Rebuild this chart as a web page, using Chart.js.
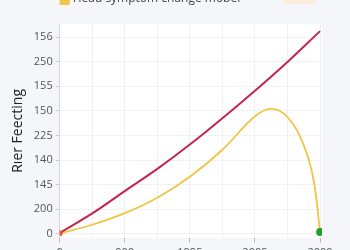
<!DOCTYPE html>
<html>
<head>
<meta charset="utf-8">
<script src="https://cdn.jsdelivr.net/npm/chart.js@4.4.1/dist/chart.umd.min.js"></script>
<style>
  html, body { margin: 0; padding: 0; background: #f4f6f9; overflow: hidden; }
  #wrap { position: absolute; left: 0; top: 0; width: 350px; height: 262px; }
</style>
</head>
<body>
<div id="wrap"><canvas id="c" width="350" height="262"></canvas></div>
<script>
// ---- data ----
const xTickLabels = ['0', '900', '1995', '2005', '2000'];
const yTickLabels = ['0', '200', '145', '140', '225', '150', '155', '250', '156'];
const seriesLabels = ['Risk model', 'Head symptom change mobel'];
const redX = [0, 0.5, 1, 1.5, 2, 2.5, 3, 3.5, 4];
const redY = [0.03, 0.83, 1.74, 2.64, 3.63, 4.7, 5.82, 6.99, 8.24];
const yellowX = [0, 0.5, 1, 1.5, 2, 2.5, 3.0, 3.25, 3.5, 3.75, 3.9, 4];
const yellowY = [0.02, 0.37, 0.84, 1.47, 2.32, 3.42, 4.78, 5.08, 4.75, 3.6, 2.2, 0.08];
const yAxisTitle = 'Rıer Feecting';

const FONT = '"Open Sans", "DejaVu Sans", sans-serif';

const redData = redX.map((x, i) => ({ x: x, y: redY[i] }));
const yellowData = yellowX.map((x, i) => ({ x: x, y: yellowY[i] }));

const bgPlugin = {
  id: 'plotBg',
  beforeDraw(chart) {
    const { ctx, chartArea: a } = chart;
    ctx.save();
    ctx.fillStyle = '#ffffff';
    ctx.fillRect(a.left, a.top, a.right - a.left, a.bottom - a.top);
    ctx.restore();
  }
};

const legendPlugin = {
  id: 'cutLegend',
  afterDraw(chart) {
    const { ctx, chartArea: a } = chart;
    const ds = chart.data.datasets[1];
    ctx.save();
    ctx.fillStyle = ds.borderColor;
    ctx.fillRect(a.left, -4, 10, 9);
    ctx.fillStyle = '#444';
    ctx.font = '12px ' + FONT;
    ctx.textBaseline = 'alphabetic';
    ctx.fillText(ds.label, a.left + 13, 2);
    ctx.fillStyle = '#fbeedd';
    ctx.beginPath();
    ctx.roundRect(283, -6, 34, 10, 3);
    ctx.fill();
    ctx.restore();
  }
};

new Chart(document.getElementById('c'), {
  type: 'line',
  data: {
    datasets: [
      {
        label: seriesLabels[0],
        data: redData,
        borderColor: '#c4254f',
        borderWidth: 2,
        tension: 0.4,
        pointRadius: ctx => ctx.dataIndex === 0 ? 3 : 0,
        pointBackgroundColor: '#e9553a',
        pointBorderWidth: 0,
        fill: false
      },
      {
        label: seriesLabels[1],
        data: yellowData,
        borderColor: '#f0c445',
        borderWidth: 1.8,
        tension: 0.4,
        pointRadius: ctx => ctx.dataIndex === yellowX.length - 1 ? 4 : 0,
        pointBackgroundColor: '#23a02c',
        pointBorderWidth: 0,
        fill: false
      }
    ]
  },
  options: {
    responsive: false,
    animation: false,
    layout: { padding: { top: 24, left: 6, right: 28, bottom: 0 } },
    plugins: { legend: { display: false }, tooltip: { enabled: false } },
    scales: {
      x: {
        type: 'linear',
        min: 0,
        max: 4.03,
        afterBuildTicks(scale) {
          const t = [];
          for (let v = 0; v <= 4; v += 0.5) t.push({ value: v });
          scale.ticks = t;
        },
        ticks: {
          autoSkip: false,
          maxRotation: 0,
          color: '#555',
          font: { size: 11, family: FONT },
          padding: 3,
          callback: (v) => Number.isInteger(v) ? xTickLabels[v] : ''
        },
        grid: {
          color: '#f0f1f3',
          tickLength: 5,
          tickColor: ctx => (ctx.tick && Number.isInteger(ctx.tick.value)) ? '#bbb' : 'rgba(0,0,0,0)'
        },
        border: { display: false }
      },
      y: {
        type: 'linear',
        min: -0.16,
        max: 8.53,
        afterBuildTicks(scale) {
          const t = [];
          for (let v = 0; v <= 8; v++) t.push({ value: v });
          scale.ticks = t;
        },
        ticks: {
          autoSkip: false,
          color: '#555',
          font: { size: 11, family: FONT },
          padding: 3,
          callback: (v) => yTickLabels[v]
        },
        grid: { color: '#f0f1f3', tickLength: 4, tickColor: '#ccc' },
        border: { display: true, color: '#d4d6da', width: 1 },
        title: {
          display: true,
          text: yAxisTitle,
          color: '#222',
          font: { size: 14, family: FONT },
          padding: 4
        }
      }
    }
  },
  plugins: [bgPlugin, legendPlugin]
});
</script>
</body>
</html>
